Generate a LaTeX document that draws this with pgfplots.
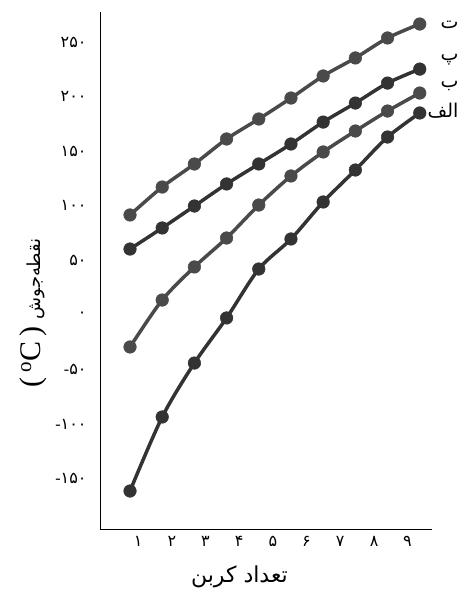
\documentclass[border=0pt]{standalone}
\usepackage{pgfplots}
\pgfplotsset{compat=1.18}
\usepackage{fontspec}
\setmainfont{Liberation Serif}
\newfontfamily\arabicfont[Script=Arabic]{DejaVu Sans}
\TeXXeTstate=1
\definecolor{dk}{HTML}{333333}
\definecolor{md}{HTML}{4A4A4A}
\newcommand{\mn}{{\rmfamily-}}
\begin{document}
\begin{tikzpicture}
\begin{axis}[
  at={(100pt,63pt)}, anchor=south west,
  width=332pt, height=517pt, scale only axis,
  xmin=0.068, xmax=10.38, ymin=-196, ymax=277.5,
  axis x line=bottom, axis y line=left,
  axis line style={-, black, line width=0.8pt},
  major tick length=0pt,
  xtick={1.25,2.30,3.34,4.39,5.44,6.48,7.53,8.58,9.62},
  xticklabels={۱,۲,۳,۴,۵,۶,۷,۸,۹},
  ytick={-150,-100,-50,0,50,100,150,200,250},
  yticklabels={\mn۱۵۰,\mn۱۰۰,\mn۵۰,۰,۵۰,۱۰۰,۱۵۰,۲۰۰,۲۵۰},
  ticklabel style={font=\arabicfont\fontsize{16}{18}\selectfont},
  yticklabel style={xshift=-10pt},
  xticklabel style={yshift=-4pt},
  xlabel={\arabicfont\beginR تعداد کربن\endR},
  xlabel style={at={(axis description cs:0.42,-0.0928)}, anchor=center, font=\fontsize{22}{24}\selectfont},
  ylabel={{\fontsize{30}{32}\selectfont(\,\textsuperscript{o}C\,)}\ \ \ {\arabicfont\fontsize{18}{20}\selectfont\beginR نقطه‌جوش\endR}},
  ylabel style={at={(axis description cs:-0.2018,0.418)}, anchor=center},
  clip=false,
]
% ta
\addplot[smooth, color=md, line width=3.5pt, mark=*, mark size=6.3pt, mark options={fill=md, line width=0.5pt}]
coordinates {(1,91.6) (2,117.2) (3,138.3) (4,161.2) (5,179.5) (6,198.7) (7,218.9) (8,235.4) (9,253.7) (10,266.5)};
% pe
\addplot[smooth, color=dk, line width=3.5pt, mark=*, mark size=6.3pt, mark options={fill=dk, line width=0.5pt}]
coordinates {(1,60.4) (2,79.7) (3,99.8) (4,120.0) (5,138.3) (6,156.6) (7,176.7) (8,194.1) (9,212.4) (10,225.2)};
% be
\addplot[smooth, color=md, line width=3.5pt, mark=*, mark size=6.3pt, mark options={fill=md, line width=0.5pt}]
coordinates {(1,-29.3) (2,13.7) (3,44.0) (4,70.5) (5,100.7) (6,127.3) (7,149.3) (8,168.5) (9,186.8) (10,203.3)};
% alef
\addplot[smooth, color=dk, line width=3.5pt, mark=*, mark size=6.3pt, mark options={fill=dk, line width=0.5pt}]
coordinates {(1,-161.2) (2,-93.4) (3,-44.0) (4,-2.7) (5,42.1) (6,69.6) (7,103.5) (8,132.8) (9,163.0) (10,185.0)};
\node[anchor=east, font=\arabicfont\fontsize{19}{21}\selectfont] at (axis cs:11.31,265.6) {\beginR ت\endR};
\node[anchor=east, font=\arabicfont\fontsize{19}{21}\selectfont] at (axis cs:11.31,233.5) {\beginR پ\endR};
\node[anchor=east, font=\arabicfont\fontsize{19}{21}\selectfont] at (axis cs:11.31,209.7) {\beginR ب\endR};
\node[anchor=east, font=\arabicfont\fontsize{19}{21}\selectfont] at (axis cs:11.31,186.8) {\beginR الف\endR};
\end{axis}
\pgfresetboundingbox
\useasboundingbox (0,0) rectangle (463pt,592pt);
\end{tikzpicture}
\end{document}
